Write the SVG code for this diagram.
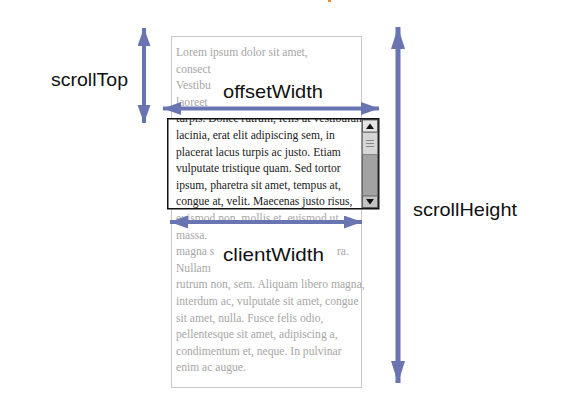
<svg xmlns="http://www.w3.org/2000/svg" width="572" height="403" viewBox="0 0 572 403">
<style>
.g{font-family:"Liberation Serif","Times New Roman",serif;font-size:11.6px;fill:#a6a6a6}
.b{font-family:"Liberation Serif","Times New Roman",serif;font-size:11.6px;fill:#1a1a1a}
.lbl{font-family:"Liberation Sans",Arial,sans-serif;font-size:19px;fill:#111}
.arr{stroke:#6875b2;fill:none}
</style>
<defs>
<marker id="hs" markerUnits="userSpaceOnUse" markerWidth="20" markerHeight="14" refX="18" refY="6.5" orient="auto-start-reverse"><path d="M0,0 L18,6.5 L0,13 z" fill="#6875b2"/></marker>
<marker id="hl" markerUnits="userSpaceOnUse" markerWidth="24" markerHeight="16" refX="22" refY="7" orient="auto-start-reverse"><path d="M0,0 L22,7 L0,14 z" fill="#6875b2"/></marker>
<clipPath id="clip"><rect x="168" y="119" width="194" height="89"/></clipPath>
</defs>
<rect x="328" y="0" width="3" height="2" fill="#f08a24"/>
<g id="outer">
<rect x="171.5" y="36.5" width="190" height="351" fill="#fff" stroke="#c8c8c8"/>
<text class="g" x="176" y="56">Lorem ipsum dolor sit amet,</text>
<text class="g" x="176" y="72.6">consect</text>
<text class="g" x="176" y="89.2">Vestibu</text>
<text class="g" x="176" y="105.8">laoreet</text>
<text class="g" x="176" y="222">euismod non, mollis et, euismod ut,</text>
<text class="g" x="176" y="238.6">massa.</text>
<text class="g" x="176" y="255.2">magna s</text>
<text class="g" x="337" y="255.2">ra.</text>
<text class="g" x="176" y="271.8">Nullam</text>
<text class="g" x="176" y="288.4">rutrum non, sem. Aliquam libero magna,</text>
<text class="g" x="176" y="305">interdum ac, vulputate sit amet, congue</text>
<text class="g" x="176" y="321.6">sit amet, nulla. Fusce felis odio,</text>
<text class="g" x="176" y="338.2">pellentesque sit amet, adipiscing a,</text>
<text class="g" x="176" y="354.8">condimentum et, neque. In pulvinar</text>
<text class="g" x="176" y="371.4">enim ac augue.</text>
</g>
<g id="client">
<rect x="167.75" y="118.75" width="211" height="90" fill="#fff" stroke="#111" stroke-width="1.5"/>
<g clip-path="url(#clip)">
<text class="b" x="176" y="122.4">turpis. Donec rutrum, felis ut vestibulum</text>
<text class="b" x="176" y="139">lacinia, erat elit adipiscing sem, in</text>
<text class="b" x="176" y="155.6">placerat lacus turpis ac justo. Etiam</text>
<text class="b" x="176" y="172.2">vulputate tristique quam. Sed tortor</text>
<text class="b" x="176" y="188.8">ipsum, pharetra sit amet, tempus at,</text>
<text class="b" x="176" y="205.4">congue at, velit. Maecenas justo risus,</text>
</g>
</g>
<g id="scrollbar">
<rect x="362" y="119.5" width="16" height="88" fill="#a2a2a2" stroke="#333" stroke-width="1"/>
<rect x="362.5" y="120" width="15" height="12" fill="#e4e4e4" stroke="#555" stroke-width="0.8"/>
<path d="M366,129 L370,123.5 L374,129 z" fill="#111"/>
<rect x="362.5" y="132.5" width="15" height="22" fill="#d6d6d6" stroke="#777" stroke-width="0.8"/>
<path d="M366,140.5 H374 M366,143.5 H374 M366,146.5 H374" stroke="#888" stroke-width="1"/>
<rect x="362.5" y="196" width="15" height="11.5" fill="#c4c4c4" stroke="#555" stroke-width="0.8"/>
<path d="M366,199 L374,199 L370,204.5 z" fill="#111"/>
</g>
<g id="labels">
<text class="lbl" x="223" y="98" textLength="100" lengthAdjust="spacingAndGlyphs">offsetWidth</text>
<text class="lbl" x="223" y="261" textLength="101" lengthAdjust="spacingAndGlyphs">clientWidth</text>
<text class="lbl" x="51" y="86" textLength="77" lengthAdjust="spacingAndGlyphs">scrollTop</text>
<text class="lbl" x="413" y="216" textLength="104" lengthAdjust="spacingAndGlyphs">scrollHeight</text>
</g>
<g id="connectors">
<line class="arr" x1="163" y1="108.5" x2="379" y2="108.5" stroke-width="4" marker-start="url(#hs)" marker-end="url(#hs)"/>
<line class="arr" x1="170" y1="222" x2="362" y2="222" stroke-width="4" marker-start="url(#hs)" marker-end="url(#hs)"/>
<line class="arr" x1="144" y1="28" x2="144" y2="123" stroke-width="4" marker-start="url(#hs)" marker-end="url(#hs)"/>
<line class="arr" x1="398" y1="27" x2="398" y2="383" stroke-width="5" marker-start="url(#hl)" marker-end="url(#hl)"/>
</g>
</svg>
